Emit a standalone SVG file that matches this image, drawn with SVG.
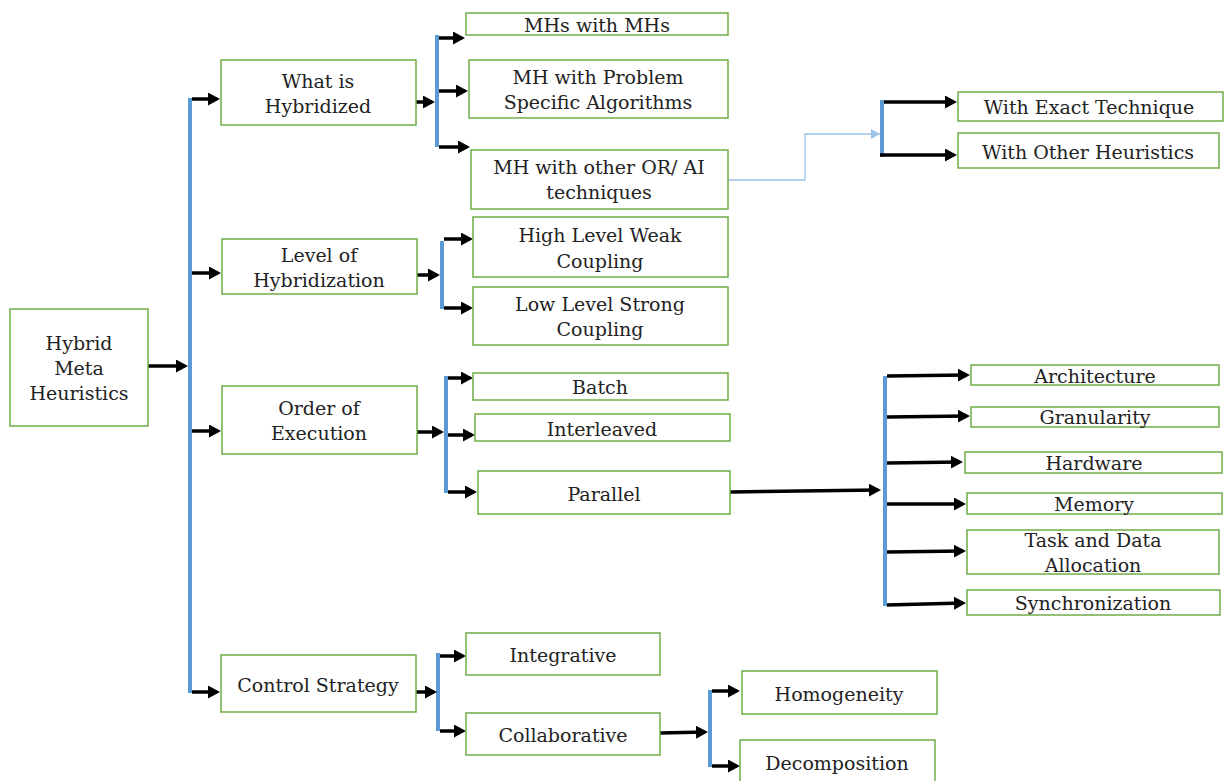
<svg xmlns="http://www.w3.org/2000/svg" width="1224" height="781" viewBox="0 0 1224 781">
<style>
.box{fill:#fff;stroke:#70AD47;stroke-width:1.5}
.t{font-family:"DejaVu Serif","Liberation Serif",serif;font-size:19px;fill:#222;text-anchor:middle;dominant-baseline:central}
.bar{stroke:#5B9BD5;stroke-width:4;fill:none}
.arr{stroke:#000;stroke-width:3.5;fill:none;marker-end:url(#ah)}
.thin{stroke:#9DC3E6;stroke-width:1.3;fill:none;marker-end:url(#ahb)}
</style>
<defs>
<marker id="ah" markerUnits="userSpaceOnUse" markerWidth="12" markerHeight="13" refX="9" refY="6.5" orient="auto" viewBox="0 0 12 13"><path d="M0,0 L12,6.5 L0,13 z" fill="#000"/></marker>
<marker id="ahb" markerUnits="userSpaceOnUse" markerWidth="9" markerHeight="10" refX="9" refY="5" orient="auto" viewBox="0 0 9 10"><path d="M0,0 L9,5 L0,10 z" fill="#9DC3E6"/></marker>
</defs>
<rect width="1224" height="781" fill="#fff"/>
<g id="connectors">
<path class="bar" d="M190,98 V693"/>
<path class="bar" d="M437,35 V147"/>
<path class="bar" d="M882,100 V157"/>
<path class="bar" d="M442,241 V309"/>
<path class="bar" d="M446,376 V493"/>
<path class="bar" d="M885,376 V606"/>
<path class="bar" d="M438,653 V731"/>
<path class="bar" d="M710,690 V767"/>
<path class="arr" d="M148,366 H185"/>
<path class="arr" d="M192,99 H217"/>
<path class="arr" d="M192,273 H218"/>
<path class="arr" d="M192,431 H218"/>
<path class="arr" d="M192,692 H217"/>
<path class="arr" d="M416,102 H432"/>
<path class="arr" d="M439,38 H462"/>
<path class="arr" d="M439,91 H465"/>
<path class="arr" d="M439,147 H467"/>
<path class="thin" d="M728,180 H805 V134 H880"/>
<path class="arr" d="M884,102 L954,102"/>
<path class="arr" d="M880,155 H954"/>
<path class="arr" d="M417,275 H437"/>
<path class="arr" d="M444,239 H470"/>
<path class="arr" d="M444,308 H470"/>
<path class="arr" d="M417,432 H441"/>
<path class="arr" d="M448,378 H470"/>
<path class="arr" d="M448,435 H472"/>
<path class="arr" d="M448,492 H474"/>
<path class="arr" d="M730,492 L878,490"/>
<path class="arr" d="M887,376 L967,375"/>
<path class="arr" d="M887,417 L967,416"/>
<path class="arr" d="M887,463 L960,462"/>
<path class="arr" d="M887,504 H963"/>
<path class="arr" d="M887,552 L963,551"/>
<path class="arr" d="M887,605 L963,603"/>
<path class="arr" d="M416,692 H434"/>
<path class="arr" d="M440,656 H463"/>
<path class="arr" d="M440,731 H463"/>
<path class="arr" d="M660,733 L705,732"/>
<path class="arr" d="M712,691 H737"/>
<path class="arr" d="M712,766 H737"/>
</g>
<g id="n-root"><rect class="box" x="10" y="309" width="138" height="117"/><text class="t" x="79" y="343">Hybrid</text><text class="t" x="79" y="368">Meta</text><text class="t" x="79" y="393">Heuristics</text></g>
<g id="n-what"><rect class="box" x="221" y="60" width="195" height="65"/><text class="t" x="318" y="81">What is</text><text class="t" x="318" y="106">Hybridized</text></g>
<g id="n-level"><rect class="box" x="222" y="239" width="195" height="55"/><text class="t" x="319" y="255">Level of</text><text class="t" x="319" y="280">Hybridization</text></g>
<g id="n-order"><rect class="box" x="222" y="386" width="195" height="68"/><text class="t" x="319" y="408">Order of</text><text class="t" x="319" y="433">Execution</text></g>
<g id="n-control"><rect class="box" x="221" y="655" width="195" height="57"/><text class="t" x="318" y="685">Control Strategy</text></g>
<g id="n-mhs"><rect class="box" x="466" y="13" width="262" height="22"/><text class="t" x="597" y="25">MHs with MHs</text></g>
<g id="n-psa"><rect class="box" x="469" y="60" width="259" height="58"/><text class="t" x="598" y="77">MH with Problem</text><text class="t" x="598" y="102">Specific Algorithms</text></g>
<g id="n-orai"><rect class="box" x="471" y="150" width="257" height="59"/><text class="t" x="599" y="167">MH with other OR/ AI</text><text class="t" x="599" y="192">techniques</text></g>
<g id="n-exact"><rect class="box" x="958" y="92" width="265" height="29"/><text class="t" x="1089" y="107">With Exact Technique</text></g>
<g id="n-otherh"><rect class="box" x="958" y="133" width="261" height="35"/><text class="t" x="1088" y="152">With Other Heuristics</text></g>
<g id="n-high"><rect class="box" x="473" y="217" width="255" height="60"/><text class="t" x="600" y="235">High Level Weak</text><text class="t" x="600" y="261">Coupling</text></g>
<g id="n-low"><rect class="box" x="473" y="287" width="255" height="58"/><text class="t" x="600" y="304">Low Level Strong</text><text class="t" x="600" y="329">Coupling</text></g>
<g id="n-batch"><rect class="box" x="473" y="373" width="255" height="27"/><text class="t" x="600" y="387">Batch</text></g>
<g id="n-inter"><rect class="box" x="475" y="414" width="255" height="27"/><text class="t" x="602" y="429">Interleaved</text></g>
<g id="n-parallel"><rect class="box" x="478" y="471" width="252" height="43"/><text class="t" x="604" y="494">Parallel</text></g>
<g id="n-arch"><rect class="box" x="971" y="365" width="248" height="20"/><text class="t" x="1095" y="376">Architecture</text></g>
<g id="n-gran"><rect class="box" x="971" y="407" width="248" height="20"/><text class="t" x="1095" y="417">Granularity</text></g>
<g id="n-hw"><rect class="box" x="965" y="452" width="257" height="21"/><text class="t" x="1094" y="463">Hardware</text></g>
<g id="n-mem"><rect class="box" x="967" y="493" width="255" height="21"/><text class="t" x="1094" y="504">Memory</text></g>
<g id="n-task"><rect class="box" x="967" y="530" width="252" height="44"/><text class="t" x="1093" y="540">Task and Data</text><text class="t" x="1093" y="565">Allocation</text></g>
<g id="n-sync"><rect class="box" x="967" y="590" width="253" height="25"/><text class="t" x="1093" y="603">Synchronization</text></g>
<g id="n-integ"><rect class="box" x="466" y="633" width="194" height="42"/><text class="t" x="563" y="655">Integrative</text></g>
<g id="n-collab"><rect class="box" x="466" y="713" width="194" height="42"/><text class="t" x="563" y="735">Collaborative</text></g>
<g id="n-homo"><rect class="box" x="742" y="671" width="195" height="43"/><text class="t" x="839" y="694">Homogeneity</text></g>
<g id="n-decomp"><rect class="box" x="740" y="740" width="195" height="45"/><text class="t" x="837" y="763">Decomposition</text></g>
</svg>
